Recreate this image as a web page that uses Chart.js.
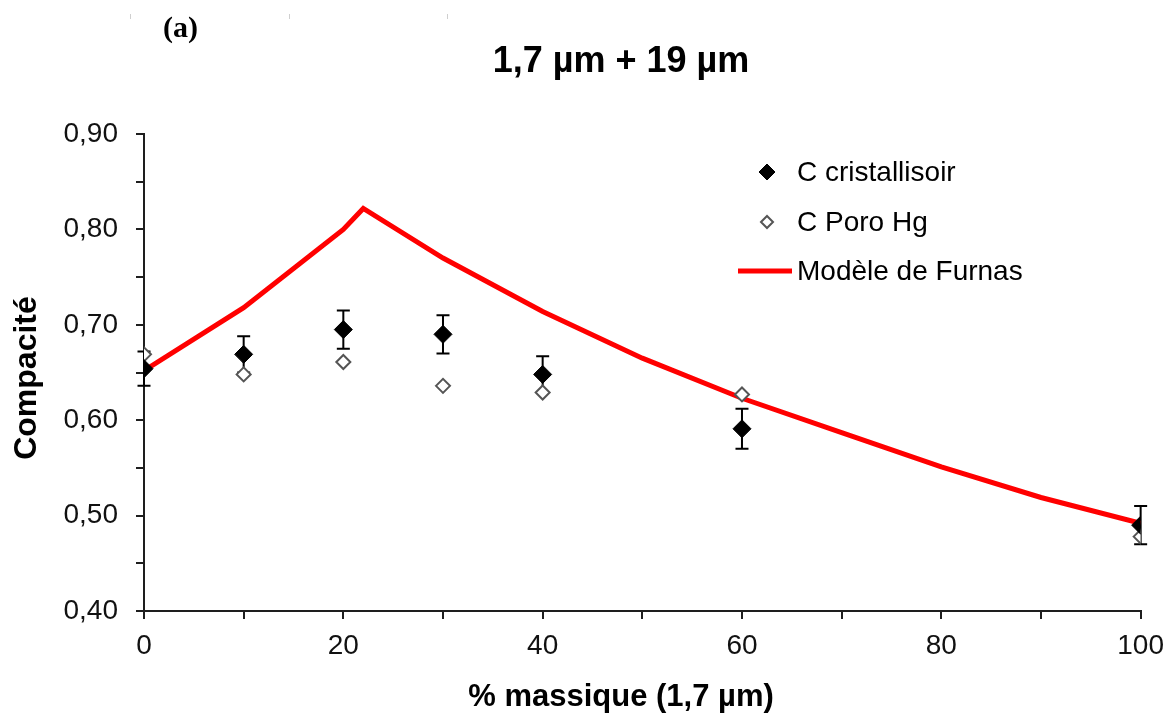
<!DOCTYPE html>
<html>
<head>
<meta charset="utf-8">
<script src="https://cdn.jsdelivr.net/npm/chart.js@4.4.0/dist/chart.umd.min.js"></script>
<style>
  body { margin: 0; background: #fff; }
  #wrap { width: 1174px; height: 718px; }
</style>
</head>
<body>
<div id="wrap"><canvas id="chart1" width="1174" height="718"></canvas></div>
<script>
// % massique of 1,7 µm particles
const xMeasure = [0, 10, 20, 30, 40, 60, 100];
const cCristallisoir = [0.654, 0.669, 0.695, 0.690, 0.648, 0.591, 0.490];
const cCristallisoirErr = [0.018, 0.019, 0.020, 0.020, 0.019, 0.021, 0.020];
const cPoroHg = [0.669, 0.648, 0.661, 0.636, 0.629, 0.627, 0.478];

// Furnas model curve
const xFurnas = [0, 10, 20, 22, 30, 40, 50, 60, 70, 80, 90, 100];
const yFurnas = [0.652, 0.718, 0.800, 0.822, 0.770, 0.714, 0.665, 0.623, 0.587, 0.551, 0.519, 0.492];

const labelTitle = '1,7 µm + 19 µm';
const labelX = '% massique (1,7 µm)';
const labelY = 'Compacité';

const fontSans = "'Liberation Sans', Arial, sans-serif";
const axisColor = '#1e1e1e';

function toPoints(xs, ys) {
    let pts = [];
    for (let i = 0; i < xs.length; i++) {
        pts.push({x: xs[i], y: ys[i]});
    }
    return pts;
}

const dsCristallisoir = {
    label: 'C cristallisoir',
    data: toPoints(xMeasure, cCristallisoir),
    pointStyle: 'rectRot',
    pointRadius: 9,
    backgroundColor: '#000',
    borderColor: '#000',
    borderWidth: 1,
    order: 0
}

const dsPoro = {
    label: 'C Poro Hg',
    data: toPoints(xMeasure, cPoroHg),
    pointStyle: 'rectRot',
    pointRadius: 7,
    backgroundColor: '#fff',
    borderColor: '#555',
    borderWidth: 2,
    order: 1
}

const dsFurnas = {
    label: 'Modèle de Furnas',
    data: toPoints(xFurnas, yFurnas),
    showLine: true,
    borderColor: '#ff0000',
    backgroundColor: '#ff0000',
    borderWidth: 5,
    pointRadius: 0,
    tension: 0,
    order: 2
}

/* error bars on the cristallisoir points */
const errorBars = {
    id: 'errorBars',
    beforeDatasetsDraw(chart) {
        const c = chart.ctx;
        const xs = chart.scales.x, ys = chart.scales.y;
        c.save();
        c.strokeStyle = '#000';
        c.lineWidth = 2;
        for (let i = 0; i < xMeasure.length; i++) {
            let px = xs.getPixelForValue(xMeasure[i]);
            let top = ys.getPixelForValue(cCristallisoir[i] + cCristallisoirErr[i]);
            let bot = ys.getPixelForValue(cCristallisoir[i] - cCristallisoirErr[i]);
            c.beginPath();
            c.moveTo(px, top); c.lineTo(px, bot);
            c.moveTo(px - 6.5, top); c.lineTo(px + 6.5, top);
            c.moveTo(px - 6.5, bot); c.lineTo(px + 6.5, bot);
            c.stroke();
        }
        c.restore();
    }
}

/* titles, legend and the little "(a)" label */
const decorations = {
    id: 'decorations',
    afterDraw(chart) {
        const c = chart.ctx;
        c.save();
        // faint ruler marks at the top of the page
        c.fillStyle = '#cfcfcf';
        [130, 289, 447].forEach(x => c.fillRect(x, 14, 1, 5));

        c.fillStyle = '#000';
        c.textBaseline = 'middle';
        c.textAlign = 'left';
        c.font = "bold 30px 'Liberation Serif', 'Times New Roman', serif";
        c.fillText('(a)', 163, 29);

        c.textAlign = 'center';
        c.font = 'bold 36px ' + fontSans;
        c.fillText(labelTitle, 621, 62);
        c.font = 'bold 31px ' + fontSans;
        c.fillText(labelX, 621, 697);

        // y title, rotated
        c.save();
        c.translate(27, 378);
        c.rotate(-Math.PI / 2);
        c.font = 'bold 32px ' + fontSans;
        c.fillText(labelY, 0, 0);
        c.restore();

        // legend
        const rows = [172, 222, 271];
        const sets = chart.data.datasets;
        c.textAlign = 'left';
        c.font = '28px ' + fontSans;
        for (let i = 0; i < sets.length; i++) {
            let d = sets[i];
            let y = rows[i];
            if (d.showLine) {
                c.strokeStyle = d.borderColor;
                c.lineWidth = d.borderWidth;
                c.beginPath(); c.moveTo(738, y); c.lineTo(792, y); c.stroke();
            } else {
                Chart.helpers.drawPoint(c, {
                    pointStyle: d.pointStyle, radius: d.pointRadius - 1,
                    borderWidth: d.borderWidth, rotation: 0
                }, 767, y);
                c.fillStyle = d.backgroundColor;
                c.strokeStyle = d.borderColor;
                c.lineWidth = d.borderWidth;
                c.fill(); c.stroke();
            }
            c.fillStyle = '#000';
            c.fillText(d.label, 797, y + 1);
        }
        c.restore();
    }
}

const ctx = document.getElementById('chart1');
const chart1 = new Chart(ctx, {
    type: 'scatter',
    data: {
        datasets: [dsCristallisoir, dsPoro, dsFurnas]
    },
    options: {
        responsive: false,
        animation: false,
        layout: {
            padding: {left: 0, right: 32, top: 134, bottom: 0}
        },
        plugins: {
            legend: {display: false},
            tooltip: {enabled: false},
            title: {display: false}
        },
        scales: {
            x: {
                type: 'linear',
                min: 0,
                max: 100,
                afterFit: (s) => { s.height = 107; },
                border: {display: true, color: axisColor, width: 2},
                grid: {drawOnChartArea: false, drawTicks: true, tickLength: 8, color: axisColor, lineWidth: 2},
                ticks: {
                    stepSize: 10,
                    autoSkip: false,
                    maxRotation: 0,
                    padding: 10,
                    color: '#111',
                    font: {family: fontSans, size: 28},
                    callback: (v) => (v % 20 === 0 ? String(v) : '')
                }
            },
            y: {
                type: 'linear',
                min: 0.4,
                max: 0.9,
                afterFit: (s) => { s.width = 144; },
                border: {display: true, color: axisColor, width: 2},
                grid: {drawOnChartArea: false, drawTicks: true, tickLength: 8, color: axisColor, lineWidth: 2},
                ticks: {
                    stepSize: 0.05,
                    autoSkip: false,
                    padding: 18,
                    color: '#111',
                    font: {family: fontSans, size: 28},
                    callback: (v) => (Math.round(v * 100) % 10 === 0 ? v.toFixed(2).replace('.', ',') : '')
                }
            }
        }
    },
    plugins: [errorBars, decorations]
});
</script>
</body>
</html>
